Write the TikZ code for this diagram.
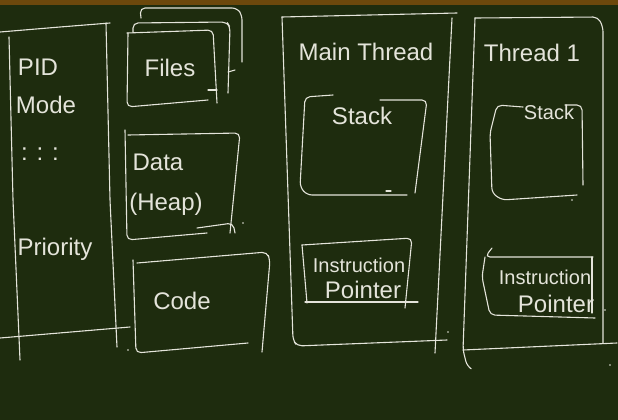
\documentclass[tikz,border=0pt]{standalone}
\usepackage{fontspec}
\setmainfont{Liberation Sans}
\definecolor{board}{RGB}{30,44,14}
\definecolor{woodframe}{RGB}{108,72,12}
\definecolor{chalk}{RGB}{228,228,218}
\begin{document}
\begin{tikzpicture}[x=1pt,y=-1pt,
  chalkline/.style={draw=chalk, line width=1.1pt, line cap=round, line join=round, rounded corners=5pt},
  chalkdot/.style={fill=chalk},
  lbl/.style={text=chalk, inner sep=0pt, anchor=base, font=\fontsize{24}{26}\selectfont},
  lblsmall/.style={lbl, font=\fontsize{20}{22}\selectfont}]
\useasboundingbox (0,0) rectangle (618,420);
\fill[board] (0,0) rectangle (618,420);
\fill[woodframe] (0,0) rectangle (618,5);

% ---- process control block column ----
\draw[chalkline] (0,32) -- (60,27) -- (110,23);
\draw[chalkline] (9,37) -- (13,200) -- (20,360);
\draw[chalkline] (106,23) -- (110,200) -- (117,347);
\draw[chalkline] (0,338) -- (130,327);
\node[lbl] (pid) at (38,75) {PID};
\node[lbl] (mode) at (46,113) {Mode};
\node[lbl] (etc) at (40,160) {: : :};
\node[lbl] (prio) at (55,255) {Priority};

% ---- files (stacked) ----
\draw[chalkline] (141,18) -- (140,8) -- (237,8) -- (242,15) -- (242,62);
\draw[chalkline] (228,72) -- (235,70);
\draw[chalkline] (133,32) -- (133,23) -- (227,22) -- (230,27) -- (228,93);
\draw[chalkline] (208,90) -- (217,90);
\draw[chalkline] (127,33) -- (213,30) -- (217,103);
\draw[chalkline] (128,33) -- (127,107) -- (208,100);
\node[lbl] (files) at (170,76) {Files};

% ---- data (heap) ----
\draw[chalkline] (125,130) -- (127,240) -- (207,233);
\draw[chalkline] (128,135) -- (240,133) -- (230,233);
\draw[chalkline] (197,228) -- (233,223) -- (235,233);
\fill[chalkdot] (243,223) circle (0.8);
\node[lbl] (data) at (158,170) {Data};
\node[lbl] (heap) at (166,210) {(Heap)};

% ---- code ----
\draw[chalkline] (133,260) -- (136,353) -- (248,343);
\draw[chalkline] (137,263) -- (267,252) -- (270,260) -- (262,352);
\fill[chalkdot] (128,350) circle (0.8);
\node[lbl] (code) at (182,309) {Code};

% ---- main thread ----
\draw[chalkline] (282,17) -- (457,13);
\draw[chalkline] (282,17) -- (293,340) -- (297,346) -- (447,340);
\draw[chalkline] (452,18) -- (435,353);
\fill[chalkdot] (448,332) circle (0.8);
\node[lbl] (mainthread) at (366,60) {Main Thread};
\draw[chalkline] (333,95) -- (305,97) -- (300,187) -- (307,195) -- (407,195);
\draw[chalkline] (380,100) -- (427,100) -- (415,193);
\draw[chalkline] (386,191) -- (391,191);
\node[lbl] (mstack) at (362,124) {Stack};
\draw[chalkline] (302,245) -- (412,238) -- (405,308);
\draw[chalkline] (302,245) -- (307,303);
\draw[chalkline] (305,302) -- (418,302);
\node[lblsmall] (minstr) at (359,272) {Instruction};
\node[lbl] (mptr) at (363,298) {Pointer};

% ---- thread 1 ----
\draw[chalkline] (475,18) -- (598,17) -- (603,27) -- (603,343);
\draw[chalkline] (475,18) -- (463,350) -- (467,366) -- (470,368);
\draw[chalkline] (463,350) -- (617,343);
\fill[chalkdot] (610,365) circle (0.8);
\node[lbl] (thread1) at (532,62) {Thread 1};
\draw[chalkline] (523,107) -- (497,105) -- (490,133) -- (492,193) -- (502,200) -- (577,195);
\draw[chalkline] (565,105) -- (582,105) -- (583,185);
\fill[chalkdot] (572,200) circle (0.8);
\node[lblsmall] (tstack) at (549,119) {Stack};
\draw[chalkline] (492,248) -- (485,257) -- (593,257);
\draw[chalkline] (485,257) -- (482,277) -- (490,315) -- (595,318);
\draw[chalkline] (592,257) -- (592,313);
\fill[chalkdot] (605,310) circle (0.8);
\node[lblsmall] (tinstr) at (545,284) {Instruction};
\node[lbl] (tptr) at (556,312) {Pointer};
\end{tikzpicture}
\end{document}
